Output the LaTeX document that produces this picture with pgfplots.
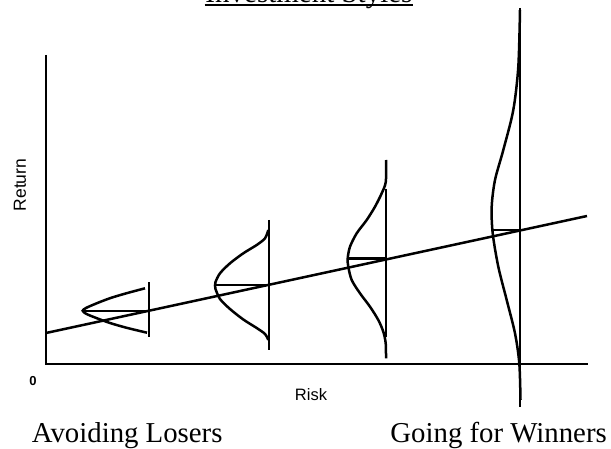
\documentclass[border=0pt]{standalone}
\usepackage{pgfplots}
\pgfplotsset{compat=1.18}
\usepackage{fontspec}
\setmainfont{Liberation Serif}
\newfontfamily\arial{Liberation Sans}

\begin{document}
\begin{tikzpicture}
\useasboundingbox (0,0) rectangle (611pt,448pt);
\clip (0,0) rectangle (611pt,448pt);
\begin{axis}[
    scale only axis,
    width=611pt,
    height=448pt,
    xmin=0, xmax=611,
    ymin=0, ymax=448,
    hide axis,
    clip=false,
    cycle list={{black,solid,line width=2.5pt,mark=none}},
    ln/.style={black, solid, line width=2.5pt, mark=none},
]
% axes
\addplot[ln, line width=2.8pt] coordinates {(46,393) (46,84) (588,84)};
% risk/return trend
\addplot[ln] coordinates {(46,115) (587,232)};

% distribution 1 (avoiding losers)
\addplot[ln] coordinates {(149,166) (149,111)};
\addplot[ln] coordinates {(83,137) (149,137)};
\addplot[ln, smooth] coordinates {
    (145,159.7) (126.7,154.8) (110,149.8) (95,144) (86,140) (82.7,137.3)
    (86,134.3) (95,130.5) (110,125) (126.7,120.2) (147,115.3)
};

% distribution 2
\addplot[ln] coordinates {(269,228) (269,98)};
\addplot[ln] coordinates {(215,163) (269,163)};
\addplot[ln, smooth] coordinates {
    (268.3,218) (265,209.7) (256.7,203) (243.3,194.7) (230,184.7) (220,174.7)
    (215.5,166) (215,162.5) (215.5,159) (220,149) (230,139) (243.3,128.5)
    (256.7,120) (265,114) (268.3,108)
};

% distribution 3
\addplot[ln] coordinates {(386,259) (386,111)};
\addplot[ln] coordinates {(347.7,189.7) (386,189.7)};
\addplot[ln, smooth] coordinates {
    (386,288) (385.8,266.3) (381.7,254.7) (375,241.3) (366.7,228) (356.7,214.7)
    (350,201.3) (347.7,189.7) (348.3,181.3) (351.7,168) (360,154.7) (370,141.3)
    (378.3,128) (383.3,116.3) (385.7,104.7) (386,89.7)
};

% distribution 4 (going for winners)
\addplot[ln] coordinates {(520,440) (520,41)};
\addplot[ln] coordinates {(493,218) (520,218)};
\addplot[ln, smooth] coordinates {
    (520,438) (518.3,381.3) (513.3,338) (503.3,298) (495,268) (491.7,241.3)
    (492.7,214.7) (498.3,181.3) (506.7,148) (515,114.7) (519.3,84.7) (520.5,48)
};

% title (cut off at the top in the original)
\node[anchor=base, inner sep=0pt, font=\fontsize{29}{32}\selectfont]
    at (axis cs:309,445.6) {Investment Styles};
\draw[line width=2pt] (axis cs:204.5,442.5) -- (axis cs:413,442.5);

% labels
\node[rotate=90, inner sep=0pt, font=\arial\fontsize{17.5}{20}\selectfont]
    at (axis cs:20,263) {Return};
\node[inner sep=0pt, font=\arial\bfseries\fontsize{13}{15}\selectfont]
    at (axis cs:33,67) {0};
\node[anchor=base, inner sep=0pt, font=\arial\fontsize{16.5}{19}\selectfont]
    at (axis cs:311,48) {Risk};
\node[anchor=base west, inner sep=0pt, font=\fontsize{28.8}{32}\selectfont]
    at (axis cs:31.7,6) {Avoiding Losers};
\node[anchor=base east, inner sep=0pt, font=\fontsize{28.8}{32}\selectfont]
    at (axis cs:607,6) {Going for Winners};
\end{axis}
\end{tikzpicture}
\end{document}
